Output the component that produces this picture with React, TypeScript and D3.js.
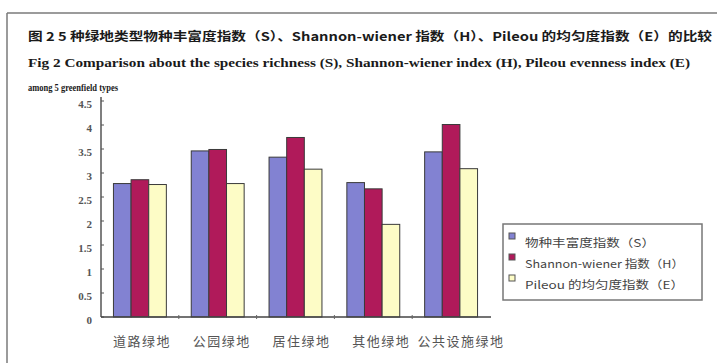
import React from "react";
import * as d3 from "d3";

// Green space types along the x axis
const categories = ["道路绿地", "公园绿地", "居住绿地", "其他绿地", "公共设施绿地"];

// Index series
const seriesNames = ["物种丰富度指数（S）", "Shannon-wiener 指数（H）", "Pileou 的均匀度指数（E）"];
const richnessS = [2.78, 3.46, 3.33, 2.8, 3.44];
const shannonH = [2.86, 3.49, 3.74, 2.67, 4.01];
const evennessE = [2.76, 2.78, 3.08, 1.93, 3.09];

const yTickValues = [0, 0.5, 1, 1.5, 2, 2.5, 3, 3.5, 4, 4.5];

const titleLines = [
  "图 2 5 种绿地类型物种丰富度指数（S）、Shannon-wiener 指数（H）、Pileou 的均匀度指数（E）的比较",
  "Fig 2 Comparison about the species richness (S), Shannon-wiener index (H), Pileou evenness index (E)",
  "among 5 greenfield types",
];

const W = 717;
const H = 363;

const colors = ["#8282d2", "#b01a5a", "#fdfcc6"];

export default function App() {
  const plotLeft = 101;
  const plotRight = 490;
  const plotBottom = 317;
  const plotTop = 101;

  const x0 = d3
    .scaleBand<string>()
    .domain(categories)
    .range([plotLeft, plotRight])
    .paddingInner(0.32)
    .paddingOuter(0.16);

  const x1 = d3
    .scaleBand<number>()
    .domain([0, 1, 2])
    .range([0, x0.bandwidth()]);

  const y = d3.scaleLinear().domain([0, 4.5]).range([plotBottom, plotTop]);

  const series = [richnessS, shannonH, evennessE];
  const step = x0.step();

  const cjk = "'Noto Sans CJK SC', 'Noto Sans', sans-serif";
  const serif = "'Liberation Serif', 'DejaVu Serif', serif";

  return (
    <svg
      width={W}
      height={H}
      viewBox={`0 0 ${W} ${H}`}
      style={{ position: "absolute", left: 0, top: 0, background: "#fff" }}
    >
      <rect x={0} y={0} width={W} height={H} fill="#fff" />
      {/* page frame */}
      <line x1={7} y1={13} x2={W} y2={13} stroke="#7a7a7a" strokeWidth={1.5} />
      <line x1={7} y1={13} x2={7} y2={H} stroke="#7a7a7a" strokeWidth={1.5} />

      {/* caption */}
      <text x={28} y={41} fontFamily={cjk} fontWeight="bold" fontSize={12} fill="#1a1a1a"
        textLength={684} lengthAdjust="spacingAndGlyphs">{titleLines[0]}</text>
      <text x={28} y={67} fontFamily={serif} fontWeight="bold" fontSize={13} fill="#1a1a1a"
        textLength={662} lengthAdjust="spacingAndGlyphs">{titleLines[1]}</text>
      <text x={28} y={91} fontFamily={serif} fontWeight="bold" fontSize={11} fill="#1a1a1a"
        textLength={90} lengthAdjust="spacingAndGlyphs">{titleLines[2]}</text>

      {/* bars */}
      {categories.map((c, ci) => (
        <g key={c} transform={`translate(${x0(c)},0)`}>
          {series.map((vals, si) => (
            <rect
              key={si}
              x={x1(si)}
              y={y(vals[ci])}
              width={x1.bandwidth()}
              height={y(0) - y(vals[ci])}
              fill={colors[si]}
              stroke="#3a3a3a"
              strokeWidth={1}
            />
          ))}
        </g>
      ))}

      {/* y axis */}
      <line x1={plotLeft} y1={plotTop - 4} x2={plotLeft} y2={plotBottom} stroke="#555" strokeWidth={1.5} />
      {yTickValues.map((t) => (
        <g key={t}>
          <line x1={plotLeft} x2={plotLeft + 3} y1={y(t)} y2={y(t)} stroke="#555" strokeWidth={1} />
          <text
            x={92}
            y={y(t) + 4}
            textAnchor="end"
            dominantBaseline="middle"
            fontFamily={serif}
            fontSize={11}
            fontWeight="bold"
            fill="#555"
          >
            {String(t)}
          </text>
        </g>
      ))}

      {/* x axis */}
      <line x1={plotLeft} y1={plotBottom} x2={plotRight + 1} y2={plotBottom} stroke="#444" strokeWidth={1.5} />
      {d3.range(1, categories.length).map((i) => {
        const bx = plotLeft + i * step;
        return <line key={i} x1={bx} x2={bx} y1={plotBottom - 2} y2={plotBottom + 2} stroke="#666" strokeWidth={1} />;
      })}
      {categories.map((c, i) => (
        <text
          key={c}
          x={(x0(c) as number) + x0.bandwidth() / 2 + 2 + i * 2}
          y={342}
          textAnchor="middle"
          dominantBaseline="middle"
          fontFamily={cjk}
          fontSize={13}
          letterSpacing={1.5}
          fill="#555"
        >
          {c}
        </text>
      ))}

      {/* legend */}
      <rect x={503} y={224} width={199} height={76} fill="#fff" stroke="#777" strokeWidth={1.5} />
      {seriesNames.map((name, i) => (
        <g key={name}>
          <rect
            x={509}
            y={233 + i * 21}
            width={6}
            height={6}
            fill={colors[i]}
            stroke="#555"
            strokeWidth={1}
          />
          <text
            x={525}
            y={244 + i * 21}
            dominantBaseline="middle"
            fontFamily={cjk}
            fontSize={11}
            fill="#444"
            textLength={i === 0 ? 130 : 159}
            lengthAdjust="spacingAndGlyphs"
          >
            {name}
          </text>
        </g>
      ))}
    </svg>
  );
}
